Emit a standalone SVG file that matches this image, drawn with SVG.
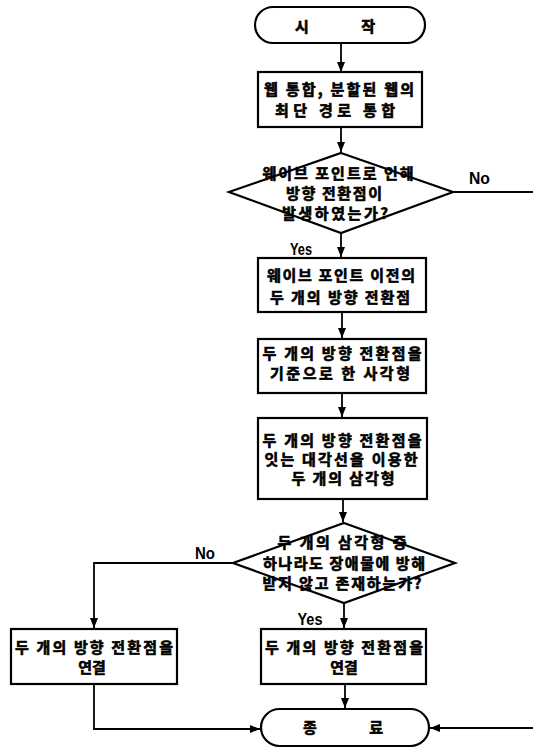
<svg xmlns="http://www.w3.org/2000/svg" width="533" height="748" viewBox="0 0 533 748">
<style>
.shape{fill:#fff;stroke:#000;stroke-width:2.2}
.t{font-family:"Noto Sans CJK KR","Noto Sans",sans-serif;font-weight:bold;font-size:15px;fill:#000;stroke:#000;stroke-width:0.6;text-anchor:middle}
.lbl{font-family:"Liberation Sans",Arial,sans-serif;font-weight:bold;font-size:17px;fill:#000;text-anchor:middle}
.c{fill:none;stroke:#000;stroke-width:1.8}
</style>
<defs>
<marker id="ah" markerUnits="userSpaceOnUse" markerWidth="10" markerHeight="8" refX="10" refY="4" orient="auto">
<path d="M0,0 L10,4 L0,8 Z" fill="#000"/>
</marker>
</defs>
<rect width="533" height="748" fill="#fff"/>
<g id="connectors">
<path class="c" d="M341,43 V72" marker-end="url(#ah)"/>
<path class="c" d="M341,127 V152" marker-end="url(#ah)"/>
<path class="c" d="M453,192 H533"/>
<path class="c" d="M341,233 V257" marker-end="url(#ah)"/>
<path class="c" d="M342,312 V338" marker-end="url(#ah)"/>
<path class="c" d="M342,393 V417" marker-end="url(#ah)"/>
<path class="c" d="M343,499 V522" marker-end="url(#ah)"/>
<path class="c" d="M233,563 H94 V628" marker-end="url(#ah)"/>
<path class="c" d="M344,603 V628" marker-end="url(#ah)"/>
<path class="c" d="M94,684 V729 H260" marker-end="url(#ah)"/>
<path class="c" d="M345,684 V708" marker-end="url(#ah)"/>
<path class="c" d="M533,728 H430" marker-end="url(#ah)"/>
<text class="lbl" x="479.5" y="184" textLength="21" lengthAdjust="spacingAndGlyphs">No</text>
<text class="lbl" x="301" y="255" textLength="22" lengthAdjust="spacingAndGlyphs">Yes</text>
<text class="lbl" x="205" y="559" textLength="20" lengthAdjust="spacingAndGlyphs">No</text>
<text class="lbl" x="310" y="625" textLength="25" lengthAdjust="spacingAndGlyphs">Yes</text>
</g>
<g id="start">
<rect class="shape" x="255" y="7" width="170" height="36" rx="18"/>
<text class="t" x="335" y="31.5" textLength="80" lengthAdjust="spacing">시 작</text>
</g>
<g id="box1">
<rect class="shape" x="258" y="72" width="164" height="55"/>
<text class="t" x="339" y="94.5" textLength="150" lengthAdjust="spacing">웹 통합, 분할된 웹의</text>
<text class="t" x="335" y="115.5" textLength="120" lengthAdjust="spacing">최단 경로 통합</text>
</g>
<g id="decision1">
<polygon class="shape" points="341,153 453,192 341,233 229,192"/>
<text class="t" x="338" y="178.5" textLength="151" lengthAdjust="spacing">웨이브 포인트로 인해</text>
<text class="t" x="334" y="198.5" textLength="96" lengthAdjust="spacing">방향 전환점이</text>
<text class="t" x="335" y="218.5" textLength="106" lengthAdjust="spacing">발생하였는가?</text>
</g>
<g id="box2">
<rect class="shape" x="258" y="258" width="168" height="54"/>
<text class="t" x="341" y="280.5" textLength="148" lengthAdjust="spacing">웨이브 포인트 이전의</text>
<text class="t" x="340" y="302.5" textLength="140" lengthAdjust="spacing">두 개의 방향 전환점</text>
</g>
<g id="box3">
<rect class="shape" x="258" y="339" width="168" height="54"/>
<text class="t" x="342" y="358.5" textLength="159" lengthAdjust="spacing">두 개의 방향 전환점을</text>
<text class="t" x="340" y="378.5" textLength="140" lengthAdjust="spacing">기준으로 한 사각형</text>
</g>
<g id="box4">
<rect class="shape" x="258" y="418" width="169" height="81"/>
<text class="t" x="342" y="445.5" textLength="159" lengthAdjust="spacing">두 개의 방향 전환점을</text>
<text class="t" x="341" y="464.5" textLength="153" lengthAdjust="spacing">잇는 대각선을 이용한</text>
<text class="t" x="343" y="483.5" textLength="103" lengthAdjust="spacing">두 개의 삼각형</text>
</g>
<g id="decision2">
<polygon class="shape" points="344,523 455,563 344,603 233,563"/>
<text class="t" x="342" y="547.5" textLength="129" lengthAdjust="spacing">두 개의 삼각형 중</text>
<text class="t" x="344" y="568.5" textLength="162" lengthAdjust="spacing">하나라도 장애물에 방해</text>
<text class="t" x="342" y="588.5" textLength="159" lengthAdjust="spacing">받지 않고 존재하는가?</text>
</g>
<g id="box5">
<rect class="shape" x="11" y="629" width="166" height="55"/>
<text class="t" x="94" y="652.5" textLength="158" lengthAdjust="spacing">두 개의 방향 전환점을</text>
<text class="t" x="92" y="673">연결</text>
</g>
<g id="box6">
<rect class="shape" x="261" y="629" width="165" height="55"/>
<text class="t" x="344" y="652.5" textLength="158" lengthAdjust="spacing">두 개의 방향 전환점을</text>
<text class="t" x="344" y="673">연결</text>
</g>
<g id="end">
<rect class="shape" x="261" y="709" width="168" height="37" rx="18.5"/>
<text class="t" x="343" y="733" textLength="80" lengthAdjust="spacing">종 료</text>
</g>
</svg>
